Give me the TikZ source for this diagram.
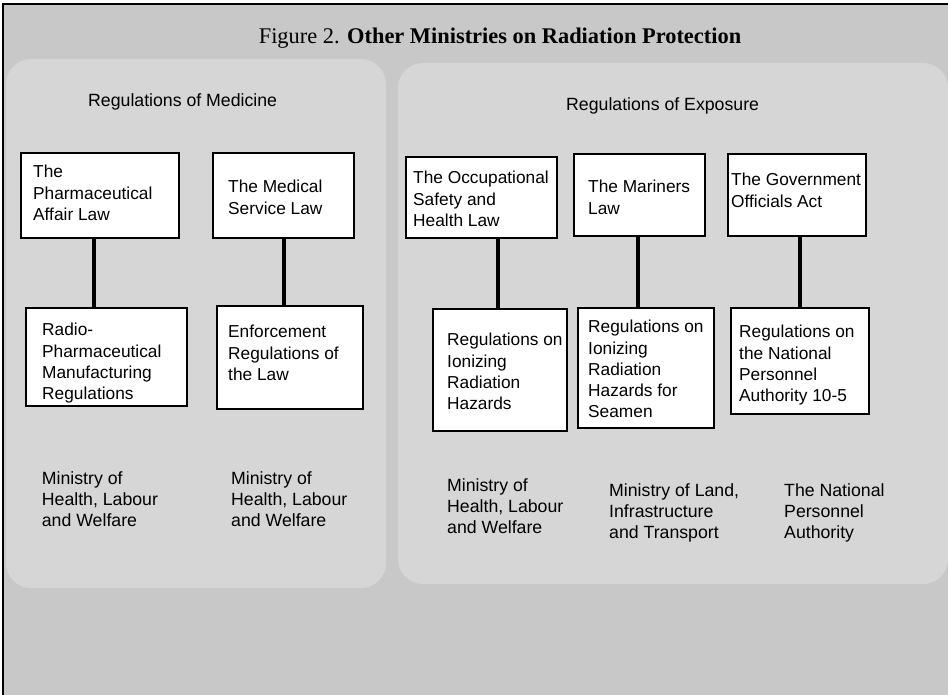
\documentclass[tikz,border=0pt]{standalone}
\usepackage{fontspec}
\setmainfont{Liberation Serif}
\newfontfamily\arialf{Liberation Sans}
\definecolor{bgc}{RGB}{200,200,200}
\definecolor{panelc}{RGB}{214,214,214}
\begin{document}
\begin{tikzpicture}[x=1pt,y=-1pt,
  panel/.style={fill=panelc, rounded corners=25pt},
  lawbox/.style={draw=black, fill=white, line width=1.2pt, inner sep=0pt},
  txt/.style={font=\arialf\fontsize{17.7}{21.3}\selectfont, align=left, inner sep=0pt, anchor=north west, text=black},
  boxtxt/.style={txt, font=\arialf\fontsize{17.3}{21.3}\selectfont},
  conn/.style={line width=4pt, draw=black},
  titletxt/.style={font=\fontsize{22.4}{26}\selectfont, inner sep=0pt, anchor=base}]
\useasboundingbox (0,0) rectangle (948,695);
% background and frame
\fill[white] (0,0) rectangle (948,695);
\fill[bgc] (3,4) rectangle (948,695);
\draw[line width=2pt, black] (3,695) -- (3,4) -- (948,4);
% title
\node[titletxt] (title) at (500,44) {Figure 2. \textbf{Other Ministries on Radiation Protection}};
% panels
\fill[panel] (6,59) rectangle (386,588);
\fill[panel] (398,63) rectangle (948,584);
\node[txt] (medhead) at (88,93) {Regulations of Medicine};
\node[txt] (exphead) at (566,97) {Regulations of Exposure};
% law boxes (top row)
\node[lawbox, minimum width=158pt, minimum height=85pt] (A) at (100,195.5) {};
\node[lawbox, minimum width=141pt, minimum height=85pt] (B) at (283.5,195.5) {};
\node[lawbox, minimum width=151pt, minimum height=81pt] (E) at (481.5,197.5) {};
\node[lawbox, minimum width=131pt, minimum height=82pt] (F) at (639.5,195) {};
\node[lawbox, minimum width=138pt, minimum height=82pt] (G) at (797,195) {};
% regulation boxes (bottom row)
\node[lawbox, minimum width=161pt, minimum height=98pt] (C) at (106.5,357) {};
\node[lawbox, minimum width=146pt, minimum height=103pt] (D) at (290,357.5) {};
\node[lawbox, minimum width=134pt, minimum height=122pt] (H) at (500,370) {};
\node[lawbox, minimum width=136pt, minimum height=120pt] (I) at (646,368) {};
\node[lawbox, minimum width=138pt, minimum height=106pt] (J) at (800,361) {};
% connector x positions
\coordinate (xA) at (94,0);
\coordinate (xB) at (284,0);
\coordinate (xE) at (498,0);
\coordinate (xF) at (638,0);
\coordinate (xG) at (800,0);
\draw[conn] (A.south -| xA) -- (C.north -| xA);
\draw[conn] (B.south -| xB) -- (D.north -| xB);
\draw[conn] (E.south -| xE) -- (H.north -| xE);
\draw[conn] (F.south -| xF) -- (I.north -| xF);
\draw[conn] (G.south -| xG) -- (J.north -| xG);
% box texts
\node[boxtxt] (At) at (33,165) {The\\Pharmaceutical\\Affair Law};
\node[boxtxt] (Bt) at (228,180) {The Medical\\Service Law};
\node[boxtxt] (Ct) at (42,323) {Radio-\\Pharmaceutical\\Manufacturing\\Regulations};
\node[boxtxt] (Dt) at (228,325) {Enforcement\\Regulations of\\the Law};
\node[boxtxt] (Et) at (413,171) {The Occupational\\Safety and\\Health Law};
\node[boxtxt] (Ft) at (588,180) {The Mariners\\Law};
\node[boxtxt] (Gt) at (731,173) {The Government\\Officials Act};
\node[boxtxt] (Ht) at (447,333) {Regulations on\\Ionizing\\Radiation\\Hazards};
\node[boxtxt] (It) at (588,320) {Regulations on\\Ionizing\\Radiation\\Hazards for\\Seamen};
\node[boxtxt] (Jt) at (739,325) {Regulations on\\the National\\Personnel\\Authority 10-5};
% ministries
\node[txt] (m1) at (41.7,471) {Ministry of\\Health, Labour\\and Welfare};
\node[txt] (m2) at (231,471) {Ministry of\\Health, Labour\\and Welfare};
\node[txt] (m3) at (447,478) {Ministry of\\Health, Labour\\and Welfare};
\node[txt] (m4) at (609,483) {Ministry of Land,\\Infrastructure\\and Transport};
\node[txt] (m5) at (784,483) {The National\\Personnel\\Authority};
\end{tikzpicture}
\end{document}
